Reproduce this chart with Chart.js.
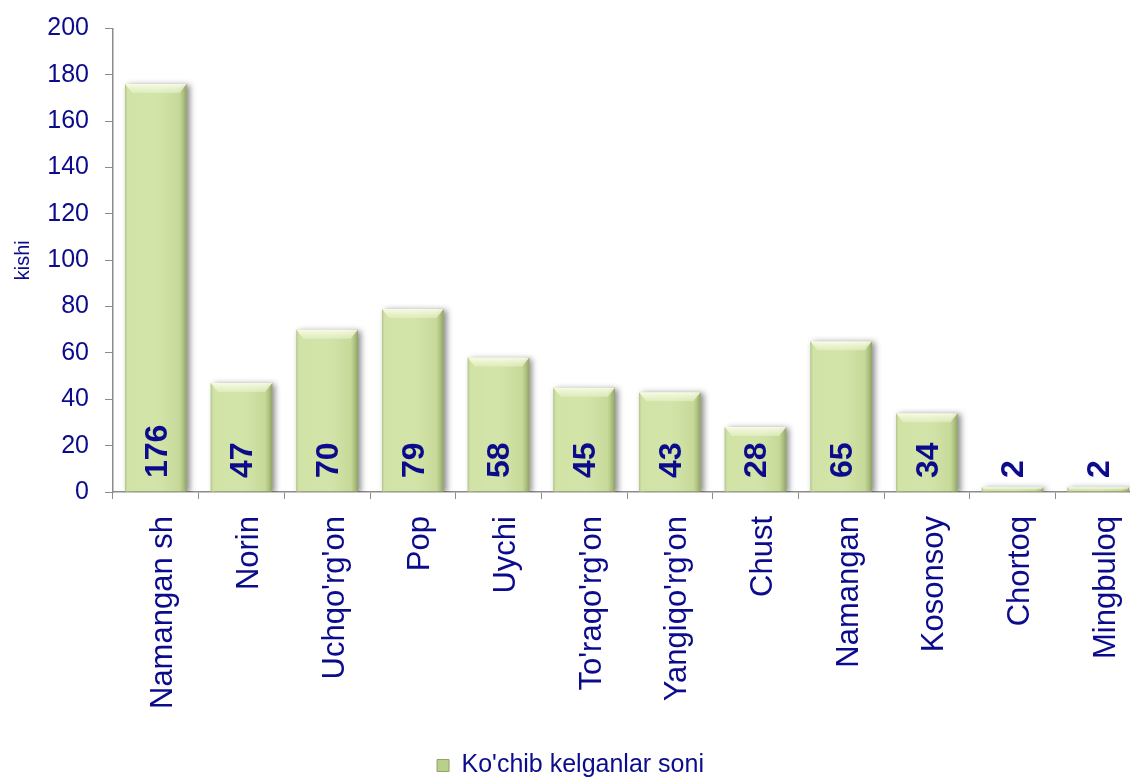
<!DOCTYPE html>
<html>
<head>
<meta charset="utf-8">
<script src="https://cdn.jsdelivr.net/npm/chart.js@4/dist/chart.umd.min.js"></script>
<style>
  html, body { margin:0; padding:0; background:#fff; overflow:hidden; }
  #wrap { position:absolute; left:0; top:0; width:1142px; height:778px; }
</style>
</head>
<body>
<div id="wrap"><canvas id="c" width="1142" height="778"></canvas></div>
<script>
const categories = ["Namangan sh","Norin","Uchqo'rg'on","Pop","Uychi","To'raqo'rg'on","Yangiqo'rg'on","Chust","Namangan","Kosonsoy","Chortoq","Mingbuloq"];
const values = [176, 47, 70, 79, 58, 45, 43, 28, 65, 34, 2, 2];
const seriesName = "Ko'chib kelganlar soni";
const yTitle = "kishi";
const yMin = 0, yMax = 200, yStep = 20;

const NAVY = '#0b0b8c';
const FONT = "'Liberation Sans', Arial, sans-serif";

const barStyle = {
  id: 'barStyle',
  beforeDatasetDraw(chart) {
    const ctx = chart.ctx;
    ctx.save();
    ctx.shadowColor = 'rgba(0,0,0,0.45)';
    ctx.shadowBlur = 6;
    ctx.shadowOffsetX = 3;
    ctx.shadowOffsetY = 1;
  },
  afterDatasetDraw(chart) {
    const ctx = chart.ctx;
    ctx.restore();
    const meta = chart.getDatasetMeta(0);
    ctx.save();
    meta.data.forEach((bar) => {
      const p = bar.getProps(['x','y','base','width'], true);
      const l = p.x - p.width/2, r = p.x + p.width/2, t = p.y, b = p.base;
      const h = b - t;
      const g = ctx.createLinearGradient(l, 0, r, 0);
      g.addColorStop(0, 'rgba(110,130,60,0.35)');
      g.addColorStop(0.06, 'rgba(255,255,255,0.03)');
      g.addColorStop(0.5, 'rgba(255,255,255,0.08)');
      g.addColorStop(0.88, 'rgba(120,140,70,0.10)');
      g.addColorStop(1, 'rgba(80,100,40,0.5)');
      ctx.fillStyle = g;
      ctx.fillRect(l, t, r - l, h);
      const bv = Math.min(9, h/2);
      if (bv > 1) {
        const gt = ctx.createLinearGradient(0, t, 0, t + bv);
        gt.addColorStop(0, 'rgba(255,255,240,0.85)');
        gt.addColorStop(1, 'rgba(235,245,210,0.5)');
        ctx.fillStyle = gt;
        ctx.beginPath();
        ctx.moveTo(l, t); ctx.lineTo(r, t);
        ctx.lineTo(r - bv*0.8, t + bv); ctx.lineTo(l + bv*0.8, t + bv);
        ctx.closePath(); ctx.fill();
      }
    });
    ctx.restore();
  }
};

const dataLabels = {
  id: 'dataLabels',
  afterDatasetsDraw(chart) {
    const ctx = chart.ctx;
    const meta = chart.getDatasetMeta(0);
    const y0 = chart.scales.y.getPixelForValue(0);
    ctx.save();
    ctx.fillStyle = NAVY;
    ctx.font = "bold 32px " + FONT;
    ctx.textAlign = 'left';
    ctx.textBaseline = 'middle';
    meta.data.forEach((bar, i) => {
      ctx.save();
      ctx.translate(bar.x + 2, y0 - 14);
      ctx.rotate(-Math.PI/2);
      ctx.fillText(String(values[i]), 0, 0);
      ctx.restore();
    });
    ctx.restore();
  }
};

new Chart(document.getElementById('c'), {
  type: 'bar',
  data: {
    labels: categories,
    datasets: [{
      label: seriesName,
      data: values,
      backgroundColor: '#cfe2a2',
      borderWidth: 0,
      barPercentage: 0.72,
      categoryPercentage: 1.0
    }]
  },
  options: {
    responsive: false,
    animation: false,
    devicePixelRatio: 1,
    layout: { padding: { top: 4, right: 1, bottom: -10, left: 0 } },
    plugins: {
      tooltip: { enabled: false },
      legend: {
        position: 'bottom',
        labels: {
          color: NAVY,
          font: { family: FONT, size: 25 },
          boxWidth: 12, boxHeight: 12,
          padding: 2,
          generateLabels: () => [{
            text: seriesName,
            fillStyle: '#b9d08c',
            strokeStyle: '#8fa466',
            lineWidth: 1,
            fontColor: NAVY
          }]
        }
      }
    },
    scales: {
      x: {
        offset: true,
        grid: { display: true, drawOnChartArea: false, drawTicks: true, tickLength: 7, color: '#8c8c8c', offset: true },
        border: { color: '#8c8c8c', width: 1.5 },
        ticks: {
          color: NAVY,
          font: { family: FONT, size: 31 },
          minRotation: 90, maxRotation: 90,
          padding: 17,
          labelOffset: 8,
          autoSkip: false
        },
        afterFit(scale) { scale.height = 259; scale.paddingRight = 0; scale.paddingLeft = 0; }
      },
      y: {
        min: yMin, max: yMax,
        grid: { display: true, drawOnChartArea: false, drawTicks: true, tickLength: 8, color: '#8c8c8c' },
        border: { color: '#8c8c8c', width: 1.5 },
        ticks: {
          stepSize: yStep,
          color: NAVY,
          font: { family: FONT, size: 25, lineHeight: 1.0 },
          padding: 16
        },
        title: {
          display: true,
          text: yTitle,
          color: NAVY,
          font: { family: FONT, size: 20 },
          padding: { top: 11, bottom: 0 }
        },
        afterFit(scale) { scale.width = 113; }
      }
    }
  },
  plugins: [barStyle, dataLabels]
});
</script>
</body>
</html>
